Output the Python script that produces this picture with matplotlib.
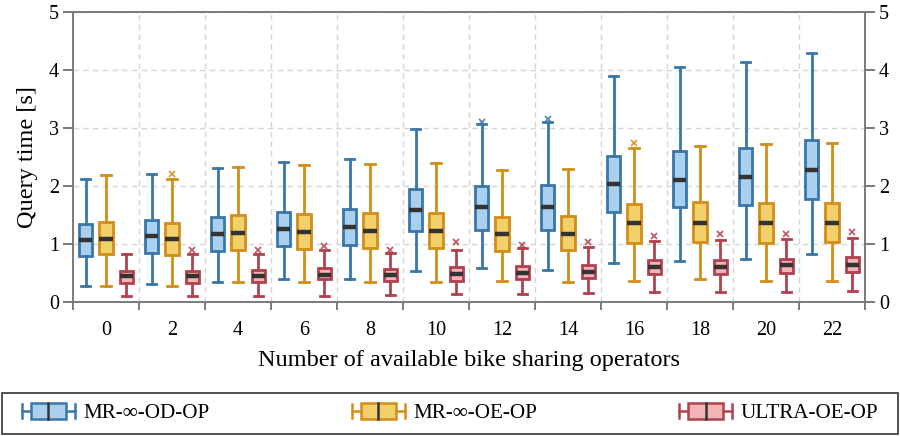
import matplotlib
matplotlib.use("Agg")
import matplotlib.pyplot as plt
from matplotlib.patches import Rectangle
from matplotlib.lines import Line2D
from matplotlib.legend_handler import HandlerBase

plt.rcParams['font.family'] = ['Liberation Serif', 'DejaVu Serif']

operators = [0, 2, 4, 6, 8, 10, 12, 14, 16, 18, 20, 22]
labels = ["MR-∞-OD-OP", "MR-∞-OE-OP", "ULTRA-OE-OP"]

# five-number summaries per algorithm, one entry per operator count
od_lo = [0.27, 0.31, 0.35, 0.40, 0.40, 0.54, 0.58, 0.56, 0.68, 0.71, 0.74, 0.82]
od_q1 = [0.80, 0.85, 0.88, 0.97, 0.99, 1.22, 1.25, 1.25, 1.56, 1.63, 1.67, 1.78]
od_med = [1.07, 1.13, 1.18, 1.26, 1.29, 1.58, 1.63, 1.63, 2.03, 2.10, 2.15, 2.28]
od_q3 = [1.35, 1.41, 1.47, 1.55, 1.60, 1.94, 2.00, 2.01, 2.51, 2.61, 2.66, 2.80]
od_hi = [2.12, 2.21, 2.31, 2.42, 2.47, 2.99, 3.07, 3.11, 3.90, 4.05, 4.13, 4.29]
od_out = [None, None, None, None, None, None, 3.10, 3.15, None, None, None, None]

oe_lo = [0.28, 0.28, 0.34, 0.35, 0.35, 0.35, 0.37, 0.35, 0.37, 0.39, 0.37, 0.37]
oe_q1 = [0.83, 0.81, 0.90, 0.92, 0.93, 0.93, 0.88, 0.89, 1.02, 1.03, 1.02, 1.03]
oe_med = [1.09, 1.09, 1.19, 1.21, 1.22, 1.23, 1.18, 1.18, 1.36, 1.37, 1.36, 1.37]
oe_q3 = [1.38, 1.36, 1.50, 1.52, 1.53, 1.54, 1.47, 1.49, 1.69, 1.72, 1.70, 1.71]
oe_hi = [2.19, 2.12, 2.33, 2.37, 2.38, 2.39, 2.28, 2.30, 2.65, 2.69, 2.72, 2.74]
oe_out = [None, 2.21, None, None, None, None, None, None, 2.74, None, None, None]

ul_lo = [0.10, 0.11, 0.11, 0.11, 0.12, 0.13, 0.13, 0.15, 0.17, 0.17, 0.17, 0.19]
ul_q1 = [0.33, 0.33, 0.35, 0.39, 0.37, 0.37, 0.39, 0.41, 0.49, 0.49, 0.50, 0.51]
ul_med = [0.44, 0.44, 0.45, 0.47, 0.46, 0.49, 0.50, 0.52, 0.61, 0.61, 0.63, 0.64]
ul_q3 = [0.54, 0.54, 0.55, 0.59, 0.57, 0.60, 0.62, 0.63, 0.73, 0.73, 0.75, 0.77]
ul_hi = [0.83, 0.83, 0.83, 0.89, 0.85, 0.90, 0.93, 0.95, 1.06, 1.07, 1.08, 1.10]
ul_out = [None, 0.90, 0.89, 0.97, 0.90, 1.03, 0.99, 1.03, 1.14, 1.17, 1.18, 1.21]

series = [
    (od_lo, od_q1, od_med, od_q3, od_hi, od_out, "#3a77a8", "#a9d1ef"),
    (oe_lo, oe_q1, oe_med, oe_q3, oe_hi, oe_out, "#d38e18", "#f2d06b"),
    (ul_lo, ul_q1, ul_med, ul_q3, ul_hi, ul_out, "#b2414f", "#f2b4b4"),
]
offsets = [-0.31, 0.0, 0.31]
box_w = 0.21


class BoxHandler(HandlerBase):
    def create_artists(self, legend, orig_handle, xdescent, ydescent,
                       width, height, fontsize, trans):
        ec = orig_handle.get_edgecolor()
        fc = orig_handle.get_facecolor()
        x0, yc = -xdescent, -ydescent + height / 2
        h = height * 1.05
        whisk = Line2D([x0, x0 + width], [yc, yc], color=ec, lw=1.8)
        capl = Line2D([x0, x0], [yc - h * 0.45, yc + h * 0.45], color=ec, lw=1.8)
        capr = Line2D([x0 + width, x0 + width], [yc - h * 0.45, yc + h * 0.45], color=ec, lw=1.8)
        box = Rectangle((x0 + width * 0.17, yc - h / 2), width * 0.66, h,
                        facecolor=fc, edgecolor=ec, lw=1.8)
        med = Line2D([x0 + width / 2] * 2, [yc - h / 2, yc + h / 2], color="#333333", lw=1.8)
        arts = [whisk, capl, capr, box, med]
        for a in arts:
            a.set_transform(trans)
        return arts


fig = plt.figure(figsize=(9, 4.36), dpi=100)
ax = fig.add_axes([73 / 900, 134 / 436, 792 / 900, 290 / 436])

for k, (lo, q1, med, q3, hi, out, ec, fc) in enumerate(series):
    stats = []
    for i in range(len(operators)):
        stats.append(dict(whislo=lo[i], q1=q1[i], med=med[i], q3=q3[i], whishi=hi[i],
                          fliers=[] if out[i] is None else [out[i]]))
    pos = [i + offsets[k] for i in range(len(operators))]
    ax.bxp(stats, positions=pos, widths=box_w, capwidths=0.14, patch_artist=True,
           showfliers=True, manage_ticks=False,
           boxprops=dict(facecolor=fc, edgecolor=ec, linewidth=2.0),
           whiskerprops=dict(color=ec, linewidth=2.0),
           capprops=dict(color=ec, linewidth=2.0),
           medianprops=dict(color="#333333", linewidth=3.2, solid_capstyle="butt"),
           flierprops=dict(marker="x", markeredgecolor=ec, markersize=5,
                           markeredgewidth=1.3, alpha=0.85))

n = len(operators)
ax.set_xlim(-0.5, n - 0.5)
ax.set_ylim(0, 5)
ax.set_xticks(range(n))
ax.set_xticklabels([str(o) for o in operators])
ax.set_xticks([i - 0.5 for i in range(n + 1)], minor=True)
ax.tick_params(axis="x", which="major", length=0, pad=14, labelsize=14.5)
ax.tick_params(axis="x", which="minor", length=6, width=1.1, color="#555555", direction="out")
ax.set_yticks(range(6))
ax.tick_params(axis="y", which="major", length=7, width=1.1, color="#555555", direction="out",
               labelsize=14.5, pad=3, left=True, right=True, labelleft=True, labelright=True)

ax.grid(True, axis="y", which="major", linestyle=(0, (4, 3)), color="#d5d5d5", linewidth=1.0)
ax.grid(True, axis="x", which="minor", linestyle=(0, (4, 3)), color="#d5d5d5", linewidth=1.0)
ax.grid(False, axis="x", which="major")
ax.set_axisbelow(True)
for s in ax.spines.values():
    s.set_color("#7a7a7a")
    s.set_linewidth(1.4)

ax.set_xlabel("Number of available bike sharing operators", fontsize=17.5, labelpad=7)
ax.set_ylabel("Query time [s]", fontsize=17.5, labelpad=8)

# legend frame spanning the full figure width
fig.patches.append(Rectangle((2 / 900, 2 / 436), 896 / 900, 41 / 436, transform=fig.transFigure,
                             facecolor="white", edgecolor="#333333", linewidth=1.2))
handles = [Rectangle((0, 0), 1, 1, edgecolor=ec, facecolor=fc) for *_, ec, fc in series]
fig.legend(handles, labels, loc="center", bbox_to_anchor=(22 / 900, 2 / 436, 856 / 900, 41 / 436),
           mode="expand", ncol=3, frameon=False, borderpad=0, borderaxespad=0,
           fontsize=15.2, handlelength=2.5, handletextpad=0.4,
           handler_map={Rectangle: BoxHandler()})

fig.savefig("out.png", dpi=100)
